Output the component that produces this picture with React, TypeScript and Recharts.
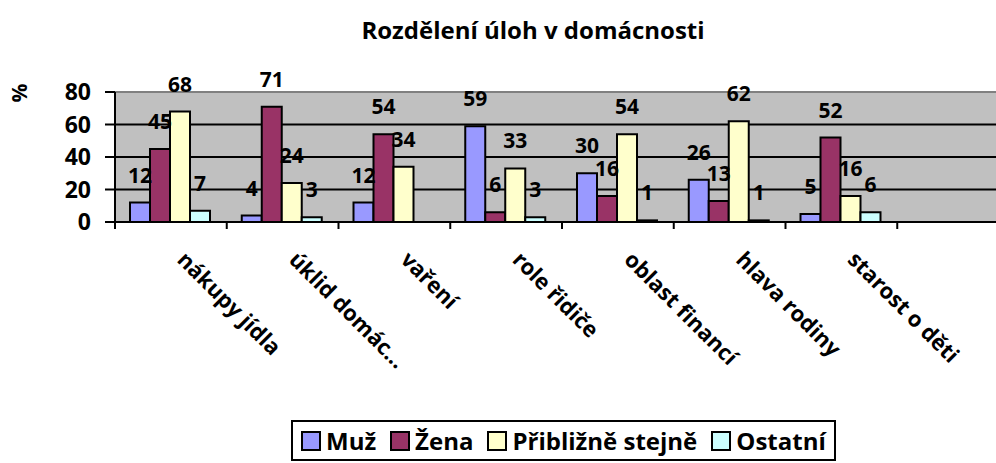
import React from 'react';
import { BarChart, Bar, XAxis, YAxis, CartesianGrid, Legend, LabelList, ReferenceLine } from 'recharts';

// last slot is empty in the original chart
const categories = ['nákupy jídla', 'úklid domác...', 'vaření', 'role řidiče', 'oblast financí', 'hlava rodiny', 'starost o děti', ''];
const muz = [12, 4, 12, 59, 30, 26, 5];
const zena = [45, 71, 54, 6, 16, 13, 52];
const stejne = [68, 24, 34, 33, 54, 62, 16];
const ostatni = [7, 3, 0, 3, 1, 1, 6];
const yTicks = [0, 20, 40, 60, 80];
const seriesOrder = ['muz', 'zena', 'stejne', 'ostatni'];

const data = categories.map((name, i) => ({
    name,
    muz: muz[i],
    zena: zena[i],
    stejne: stejne[i],
    ostatni: ostatni[i],
}));

const FONT = '"Open Sans", "Noto Sans", sans-serif';

// Excel puts the tick marks between categories, so draw them at the band edge
const CatTick = (props: any) => {
    const { x, y, payload } = props;
    const half = payload.offset || 0;
    return (
        <g>
            <line x1={x - half} x2={x - half} y1={y} y2={y + 7} stroke="#000" strokeWidth={2} />
            <g transform={`translate(${x + 5},${y + 39})`}>
                <text transform="rotate(45)" textAnchor="start" fontSize={22} fontWeight={700} fill="#000" fontFamily={FONT}>
                    {payload.value}
                </text>
            </g>
        </g>
    );
};

const LegendBox = (props: any) => {
    const { payload } = props;
    return (
        <div style={{ display: 'flex', alignItems: 'center', border: '2px solid #000', padding: '3px 8px', lineHeight: '31px', background: '#fff', fontFamily: FONT, fontWeight: 700, fontSize: 24 }}>
            {payload.map((p: any, i: number) => (
                <span key={i} style={{ display: 'flex', alignItems: 'center', marginRight: i < payload.length - 1 ? 14 : 0 }}>
                    <span style={{ width: 16, height: 16, border: '2px solid #000', background: p.color, marginRight: 5, display: 'inline-block' }} />
                    {p.value}
                </span>
            ))}
        </div>
    );
};

const App: React.FC = () => {
    return (
        <div style={{ position: 'fixed', left: 0, top: 0, width: 996, height: 463, overflow: 'hidden', background: '#fff' }}>
            <div style={{ position: 'absolute', left: 283, top: 13, width: 500, textAlign: 'center', fontFamily: FONT, fontWeight: 700, fontSize: 24, color: '#000' }}>
                Rozdělení úloh v domácnosti
            </div>
            <BarChart width={1010} height={463} data={data} margin={{ top: 92, right: 1, left: 0, bottom: 111 }} barCategoryGap={15} barGap={0}>
                <CartesianGrid vertical={false} fill="#C0C0C0" fillOpacity={1} stroke="#000" strokeWidth={2} />
                <XAxis dataKey="name" height={130} axisLine={{ stroke: '#000', strokeWidth: 2 }} tickLine={false} tickSize={0} tickMargin={0} interval={0} tick={<CatTick />} />
                <YAxis width={115} domain={[0, 80]} ticks={yTicks} interval={0} tickSize={10} tickMargin={14}
                    axisLine={{ stroke: '#000', strokeWidth: 2 }} tickLine={{ stroke: '#000', strokeWidth: 2 }}
                    tick={{ fill: '#000', fontSize: 23, fontWeight: 700, fontFamily: FONT }}
                    label={(p: any) => (
                        <text x={27} y={93} transform="rotate(-90 27 93)" textAnchor="middle" fontSize={21} fontWeight={700} fontFamily={FONT} fill="#000">%</text>
                    )} />
                <ReferenceLine y={80} stroke="#808080" strokeWidth={2} />
                <Legend layout="horizontal" verticalAlign="middle" content={<LegendBox />}
                    itemSorter={(item: any) => seriesOrder.indexOf(item.dataKey)}
                    wrapperStyle={{ position: 'absolute', left: 291, top: 420, width: 'auto' }} />
                <Bar dataKey="muz" name="Muž" fill="#9999FF" stroke="#000" strokeWidth={2} isAnimationActive={false}>
                    <LabelList dataKey="muz" position="top" offset={20} fill="#000" fontSize={21} fontWeight={700} fontFamily={FONT} />
                </Bar>
                <Bar dataKey="zena" name="Žena" fill="#993366" stroke="#000" strokeWidth={2} isAnimationActive={false}>
                    <LabelList dataKey="zena" position="top" offset={20} fill="#000" fontSize={21} fontWeight={700} fontFamily={FONT} />
                </Bar>
                <Bar dataKey="stejne" name="Přibližně stejně" fill="#FFFFCC" stroke="#000" strokeWidth={2} isAnimationActive={false}>
                    <LabelList dataKey="stejne" position="top" offset={20} fill="#000" fontSize={21} fontWeight={700} fontFamily={FONT} />
                </Bar>
                <Bar dataKey="ostatni" name="Ostatní" fill="#CCFFFF" stroke="#000" strokeWidth={2} isAnimationActive={false}>
                    <LabelList dataKey="ostatni" position="top" offset={20} fill="#000" fontSize={21} fontWeight={700} fontFamily={FONT} />
                </Bar>
            </BarChart>
        </div>
    );
};

export default App;
